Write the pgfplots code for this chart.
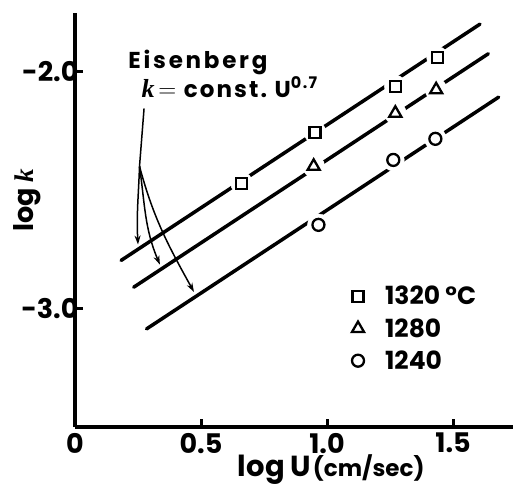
\documentclass[border=0pt]{standalone}
\usepackage{pgfplots}
\pgfplotsset{compat=1.18}
\usetikzlibrary{arrows.meta}
\usepackage{fontspec}
\setmainfont{Poppins}
\newfontfamily\kfont{Liberation Serif}
\newcommand{\kk}{{\kfont\bfseries\itshape k}}
\begin{document}
\begin{tikzpicture}
\begin{axis}[
  name=ax,
  scale only axis,
  width=438pt, height=414pt,
  xmin=0, xmax=1.738, ymin=-3.5, ymax=-1.753,
  axis lines=left,
  axis line style={line width=3.5pt, -},
  xtick={0,0.5,1.0,1.5}, xticklabels={0,0.5,1.0,1.5},
  ytick={-3,-2}, yticklabels={-3.0,-2.0},
  tick align=inside, major tick length=8pt,
  tick style={line width=3pt, black},
  ticklabel style={font=\fontsize{27}{27}\selectfont\bfseries},
  xticklabel style={inner sep=0pt, yshift=-6pt},
  yticklabel style={xshift=7pt},
  xlabel={{\fontsize{29}{29}\selectfont\bfseries log U}\,{\fontsize{23}{23}\selectfont\bfseries (cm/sec)}},
  xlabel style={at={(axis description cs:0.585,0)}, anchor=base, inner sep=0pt, yshift=-49pt},
  ylabel={{\fontsize{27}{27}\selectfont\bfseries log \kk}},
  ylabel style={at={(axis description cs:-0.11,0.548)}, anchor=center},
  clip=false,
  legend style={draw=none, fill=none, at={(axis description cs:0.625,0.35)}, anchor=north west,
    font=\fontsize{25}{30}\selectfont\bfseries, row sep=8pt},
  legend cell align=left,
]
% fitted lines (slope 0.7)
\addplot[line width=3.5pt, line cap=round, forget plot] coordinates {(0.183,-2.797) (1.607,-1.800)};
\addplot[line width=3.5pt, line cap=round, forget plot] coordinates {(0.233,-2.910) (1.640,-1.925)};
\addplot[line width=3.5pt, line cap=round, forget plot] coordinates {(0.284,-3.086) (1.681,-2.108)};
% gaps around points
\addplot[white, only marks, mark=*, mark size=11pt, mark options={fill=white, draw=white}, forget plot] coordinates {
 (0.661,-2.471) (0.952,-2.256) (1.271,-2.062) (1.439,-1.942)
 (0.947,-2.400) (1.271,-2.176) (1.433,-2.077)
 (0.966,-2.647) (1.263,-2.373) (1.430,-2.284)};
% data
\addplot[black, only marks, mark=square, mark size=5.5pt, mark options={line width=2.3pt, fill=white}] coordinates {
 (0.661,-2.471) (0.952,-2.256) (1.271,-2.062) (1.439,-1.942)};
\addplot[black, only marks, mark=triangle, mark size=7pt, mark options={line width=2.3pt, fill=white}] coordinates {
 (0.947,-2.400) (1.271,-2.176) (1.433,-2.077)};
\addplot[black, only marks, mark=o, mark size=6pt, mark options={line width=2.3pt, fill=white}] coordinates {
 (0.966,-2.647) (1.263,-2.373) (1.430,-2.284)};
\legend{\hspace{19pt}1320 °C,\hspace{19pt}1280,\hspace{19pt}1240}
% annotation
\node[anchor=base west, font=\fontsize{23}{23}\selectfont\bfseries\addfontfeatures{LetterSpace=12}] at (axis cs:0.198,-1.987) {Eisenberg};
\node[anchor=base west, font=\fontsize{23}{23}\selectfont\bfseries\addfontfeatures{LetterSpace=9}] at (axis cs:0.25,-2.11) {{\fontsize{26}{26}\selectfont\kk}\,{\fontsize{32}{32}\selectfont$=$}\,\,const.\,\,U\textsuperscript{\fontsize{16}{16}\selectfont 0.7}};
\draw[line width=1.5pt] (axis cs:0.274,-2.156) -- (axis cs:0.256,-2.40);
\draw[line width=1.5pt, -{Stealth[length=9pt,width=6pt]}] (axis cs:0.256,-2.40) to[out=-92,in=93] (axis cs:0.250,-2.73);
\draw[line width=1.5pt, -{Stealth[length=9pt,width=6pt]}] (axis cs:0.256,-2.40) to[out=-82,in=113] (axis cs:0.337,-2.815);
\draw[line width=1.5pt, -{Stealth[length=9pt,width=6pt]}] (axis cs:0.256,-2.40) to[out=-75,in=119] (axis cs:0.472,-2.93);
\end{axis}
\pgfresetboundingbox
\path[use as bounding box] ([shift={(-75pt,-61pt)}]ax.south west) rectangle ([shift={(10pt,13pt)}]ax.north east);
\end{tikzpicture}
\end{document}
